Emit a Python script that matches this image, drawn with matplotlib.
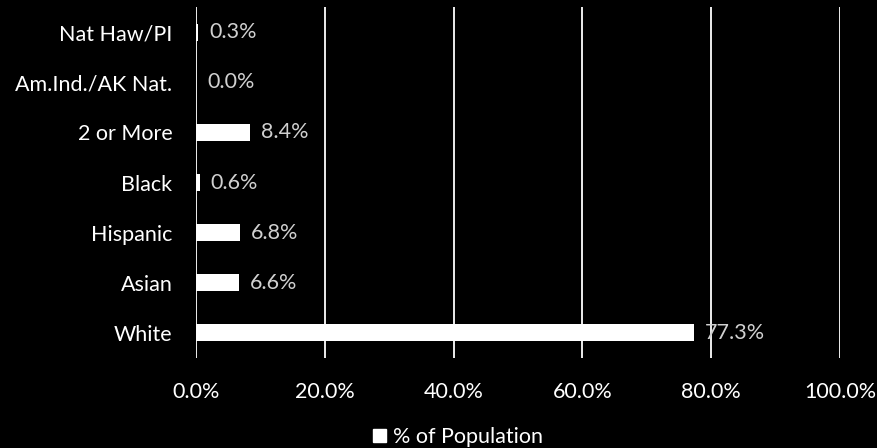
import matplotlib
matplotlib.use("Agg")
import matplotlib.pyplot as plt
from matplotlib.patches import Patch

categories = ["White", "Asian", "Hispanic", "Black", "2 or More", "Am.Ind./AK Nat.", "Nat Haw/PI"]
values = [77.3, 6.6, 6.8, 0.6, 8.4, 0.0, 0.3]
xticks = [0, 20, 40, 60, 80, 100]
xticklabels = ["0.0%", "20.0%", "40.0%", "60.0%", "80.0%", "100.0%"]
series_name = "% of Population"

plt.rcParams['font.family'] = ['Lato', 'DejaVu Sans']
FS = 15.5

fig = plt.figure(figsize=(8.77, 4.48), dpi=100, facecolor="black")
ax = fig.add_axes([196/877, 1-358/448, (840-196)/877, (358-7)/448])
ax.set_facecolor("black")

y = list(range(len(categories)))
ax.barh(y, values, height=0.34, color="white", zorder=3)
for yi, v in zip(y, values):
    ax.text(v + 1.7, yi, f"{v:.1f}%", va="center", ha="left", color="#d0d0d0", fontsize=FS, zorder=4)

ax.set_xlim(0, 100)
ax.set_ylim(-0.5, len(categories) - 0.5)
ax.set_xticks(xticks)
ax.set_xticklabels(xticklabels)
ax.set_yticks(y)
ax.set_yticklabels(categories)
ax.tick_params(axis="both", length=0, colors="white", labelsize=FS)
ax.tick_params(axis="x", pad=17)
ax.tick_params(axis="y", pad=17)
ax.xaxis.grid(True, color="white", linewidth=1.3, zorder=1)
ax.set_axisbelow(True)
for s in ax.spines.values():
    s.set_visible(False)

leg = fig.legend(handles=[Patch(facecolor="white", edgecolor="white")], labels=[series_name],
                 loc="center", bbox_to_anchor=(458/877, 1-437/448), frameon=False,
                 fontsize=FS, labelcolor="white", handlelength=0.6, handleheight=0.6, handletextpad=0.3)

fig.savefig("out.png", dpi=100, facecolor="black")
